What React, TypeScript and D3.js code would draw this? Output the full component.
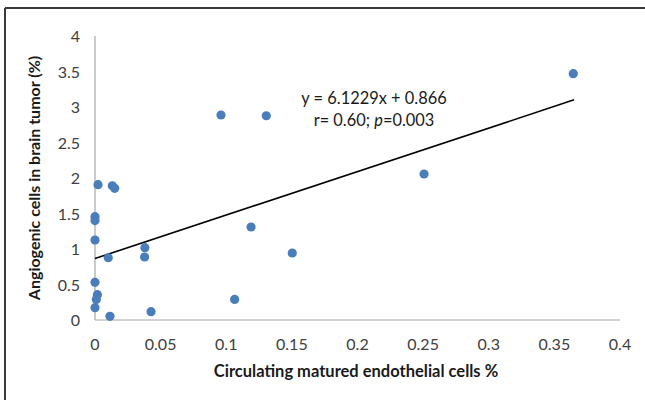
import React, { useEffect, useRef } from "react";
import * as d3 from "d3";

// circulating matured endothelial cells % (x) vs angiogenic cells in brain tumor % (y)
const xValues = [0.0023, 0.0132, 0.015, 0, 0, 0, 0.0101, 0.038, 0.0378, 0, 0.0018, 0.001, 0, 0.0114, 0.0427, 0.096, 0.1305, 0.1189, 0.1503, 0.1064, 0.2507, 0.3644];
const yValues = [1.906, 1.89, 1.855, 1.455, 1.4, 1.127, 0.877, 1.018, 0.887, 0.53, 0.357, 0.29, 0.173, 0.052, 0.117, 2.887, 2.877, 1.31, 0.944, 0.29, 2.056, 3.47];
const xTicks = [0, 0.05, 0.1, 0.15, 0.2, 0.25, 0.3, 0.35, 0.4];
const yTicks = [0, 0.5, 1, 1.5, 2, 2.5, 3, 3.5, 4];
const slope = 6.1229;
const intercept = 0.866;
const trendRange = [0, 0.365];

const W = 645;
const H = 400;
const FONT = "Lato, 'Open Sans', sans-serif";

export default function App() {
  const svgRef = useRef<SVGSVGElement>(null);

  useEffect(() => {
    if (!svgRef.current) return;
    const svg = d3.select(svgRef.current);
    svg.selectAll("*").remove();

    const x = d3.scaleLinear().domain([0, 0.4]).range([95, 620]);
    const y = d3.scaleLinear().domain([0, 4]).range([320, 36]);

    // frame (top and left edges only visible)
    svg.append("line").attr("x1", 5).attr("x2", W).attr("y1", 8).attr("y2", 8)
      .attr("stroke", "#3a3a3a").attr("stroke-width", 2);
    svg.append("line").attr("x1", 5).attr("x2", 5).attr("y1", 8).attr("y2", H)
      .attr("stroke", "#3a3a3a").attr("stroke-width", 2);

    // axes
    svg.append("line").attr("x1", x(0)).attr("x2", x(0.4)).attr("y1", y(0)).attr("y2", y(0))
      .attr("stroke", "#a6a6a6").attr("stroke-width", 1.2);
    svg.append("line").attr("x1", x(0)).attr("x2", x(0)).attr("y1", y(0)).attr("y2", y(4))
      .attr("stroke", "#a6a6a6").attr("stroke-width", 1.2);

    svg.selectAll(".xt").data(xTicks).enter().append("text")
      .attr("x", d => x(d)).attr("y", 350)
      .attr("text-anchor", "middle")
      .attr("font-family", FONT).attr("font-size", "16px").attr("fill", "#404040")
      .text(d => String(d));

    svg.selectAll(".yt").data(yTicks).enter().append("text")
      .attr("x", 80).attr("y", d => y(d) + 6)
      .attr("text-anchor", "end")
      .attr("font-family", FONT).attr("font-size", "16px").attr("fill", "#404040")
      .text(d => String(d));

    // axis titles
    svg.append("text")
      .attr("x", 356).attr("y", 377)
      .attr("text-anchor", "middle")
      .attr("font-family", FONT).attr("font-size", "16.5px").attr("font-weight", "bold").attr("fill", "#1a1a1a")
      .text("Circulating matured endothelial cells %");

    svg.append("text")
      .attr("transform", `translate(40,178) rotate(-90)`)
      .attr("text-anchor", "middle")
      .attr("font-family", FONT).attr("font-size", "16px").attr("font-weight", "bold").attr("fill", "#1a1a1a")
      .text("Angiogenic cells in brain tumor (%)");

    // trend line
    const line = d3.line<number>().x(d => x(d)).y(d => y(slope * d + intercept));
    svg.append("path").attr("d", line(trendRange))
      .attr("fill", "none").attr("stroke", "#000").attr("stroke-width", 1.6);

    // points
    svg.selectAll(".pt").data(xValues).enter().append("circle")
      .attr("cx", d => x(d)).attr("cy", (d, i) => y(yValues[i]))
      .attr("r", 4.6).attr("fill", "#4a7ebb");

    // equation
    svg.append("text")
      .attr("x", 374).attr("y", 104)
      .attr("text-anchor", "middle")
      .attr("font-family", FONT).attr("font-size", "16.4px").attr("fill", "#1a1a1a")
      .text("y = 6.1229x + 0.866");
    const t2 = svg.append("text")
      .attr("x", 374).attr("y", 126)
      .attr("text-anchor", "middle")
      .attr("font-family", FONT).attr("font-size", "16.4px").attr("fill", "#1a1a1a");
    t2.append("tspan").text("r= 0.60; ");
    t2.append("tspan").attr("font-style", "italic").text("p");
    t2.append("tspan").text("=0.003");
  }, []);

  return (
    <svg ref={svgRef} width={W} height={H}
      style={{ position: "absolute", left: 0, top: 0, background: "#fff" }} />
  );
}
